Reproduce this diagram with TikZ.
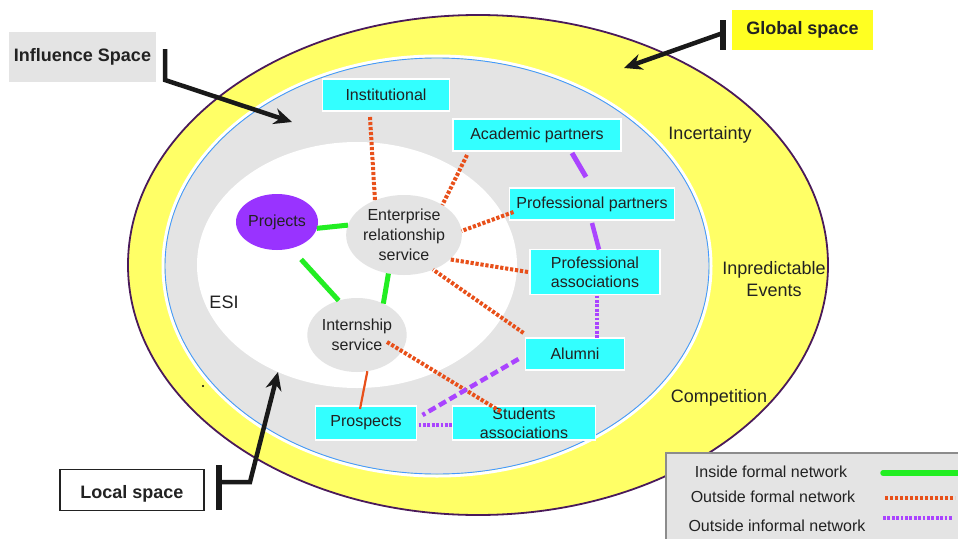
\documentclass[tikz,border=0pt]{standalone}
\usepackage{fontspec}
\setmainfont{Liberation Sans}
\usetikzlibrary{arrows.meta,calc,shapes.geometric}
\definecolor{cyanbox}{HTML}{33FFFF}
\definecolor{ringyellow}{HTML}{FFFF66}
\definecolor{globyellow}{HTML}{FFFF22}
\definecolor{lgray}{HTML}{E4E4E4}
\definecolor{ringborder}{HTML}{4A1A5A}
\definecolor{thinblue}{HTML}{4499FF}
\definecolor{projpurple}{HTML}{9933FF}
\definecolor{linepurple}{HTML}{AA44FF}
\definecolor{lineorange}{HTML}{E8501A}
\definecolor{linegreen}{HTML}{22EE22}
\definecolor{txt}{HTML}{222222}
\newcommand\fsz[2]{\fontsize{#1}{#2}\selectfont}
\begin{document}
\begin{tikzpicture}[x=1pt,y=-1pt,
  cbox/.style={rectangle, fill=cyanbox, draw=white, line width=1.2pt, text=txt,
    font=\fsz{16}{19}, align=center, inner sep=0pt, outer sep=0pt},
  service/.style={ellipse, fill=lgray, text=txt, font=\fsz{16}{20}, align=center, inner sep=0pt, outer sep=0pt},
  ringlabel/.style={text=txt, font=\fsz{18}{22}, align=center, inner sep=0pt},
  callout/.style={rectangle, text=txt, font=\bfseries\fsz{18}{22}, inner sep=0pt, outer sep=0pt},
  inside/.style={draw=linegreen, line width=5pt},
  outside/.style={draw=lineorange, line width=4pt, dash pattern=on 3.2pt off 1.8pt},
  outthin/.style={draw=lineorange, line width=2.2pt},
  informal/.style={draw=linepurple, line width=4.5pt, dash pattern=on 8pt off 4pt},
  infdot/.style={draw=linepurple, line width=4pt, dash pattern=on 2.8pt off 1.6pt},
  bigarrow/.style={draw=black!90, line width=4.5pt, -{Stealth[length=18pt,width=16pt]}},
  tbar/.style={draw=black!90, line width=6pt},
  legtext/.style={text=txt, font=\fsz{16}{18}, inner sep=0pt}
]
\clip (0,0) rectangle (958,538);
\useasboundingbox (0,0) rectangle (958,538);
\fill[white] (0,0) rectangle (958,538);

% spaces
\filldraw[fill=ringyellow, draw=ringborder, line width=1.8pt] (478,265) ellipse [x radius=350pt, y radius=250pt];
\draw[white, line width=3pt] (437,266) ellipse [x radius=274pt, y radius=210pt];
\filldraw[fill=lgray, draw=thinblue, line width=0.9pt] (437,266) ellipse [x radius=272pt, y radius=208pt];
\fill[white] (357,265) ellipse [x radius=160pt, y radius=123pt];
\fill[black] (203,386) circle (1.2pt);

% ring labels
\node[ringlabel] (incert) at (710,135) {Incertainty};
\node[ringlabel] (inpred) at (774,279) {Inpredictable\\Events};
\node[ringlabel] (compet) at (719,398) {Competition};
\node[ringlabel] (esi) at (224,302) {ESI};

% nodes
\node[cbox, minimum width=127pt, minimum height=32pt] (inst) at (386,95) {Institutional};
\node[cbox, minimum width=168pt, minimum height=32pt] (acad) at (537,135) {Academic partners};
\node[cbox, minimum width=165pt, minimum height=32pt] (profp) at (592,204) {Professional partners};
\node[cbox, minimum width=130pt, minimum height=45pt] (profa) at (595,272) {Professional\\associations};
\node[cbox, minimum width=99pt, minimum height=32pt] (alumni) at (575,354) {Alumni};
\node[cbox, minimum width=143pt, minimum height=34pt] (stud) at (524,423) {Students\\associations};
\node[cbox, minimum width=101pt, minimum height=34pt] (prosp) at (366,423) {Prospects};
\node[ellipse, fill=projpurple, text=txt, font=\fsz{16}{19}, minimum width=82pt, minimum height=56pt, inner sep=0pt, outer sep=0pt] (proj) at (277,222) {Projects};
\node[service, minimum width=96pt, minimum height=80pt] (ers) at (404,235) {Enterprise\\relationship\\service};
\node[service, minimum width=98pt, minimum height=74pt] (intern) at (357,335) {Internship\\service};

% inside formal network
\draw[inside] (proj.-9) -- (ers.170);
\draw[inside, shorten <=15pt] (proj.-62) -- (intern.118);
\draw[inside] (ers.-112) -- (intern.50);

% outside formal network
\draw[outside] ($(inst.south)+(-16,6)$) -- (ers.130);
\draw[outside] ($(acad.south west)+(14,4)$) -- (ers.38);
\draw[outside] ($(profp.south west)+(4,-8)$) -- (ers.4);
\draw[outside] ($(profa.west)+(-2,0)$) -- (ers.-28);
\draw[outside] ($(alumni.north west)+(-2,-5)$) -- (ers.-50);
\draw[outside] ($(intern.center)+(30,7)$) -- ($(stud.north west)+(49,6)$);
\draw[outthin] (intern.-74) -- ($(prosp.north)+(-6,3)$);

% outside informal network
\draw[draw=linepurple, line width=5pt] ($(acad.south)+(35,2)$) -- ($(profp.north)+(-6,-11)$);
\draw[draw=linepurple, line width=4.5pt] ($(profp.south)+(0,3)$) -- ($(profa.north)+(4,0)$);
\draw[infdot] ($(profa.south)+(2,1)$) -- ($(alumni.north)+(22,0)$);
\draw[informal] ($(alumni.west)+(-7,5)$) -- ($(prosp.east)+(6,-8)$);
\draw[infdot] ($(prosp.east)+(2,2)$) -- ($(stud.west)+(0,2)$);

% callouts
\node[callout, fill=lgray, minimum width=147pt, minimum height=50pt] (infl) at (82.5,57) {Influence Space};
\coordinate (inflbar) at (165,49);
\coordinate (inflelbow) at (165,80);
\coordinate (infltip) at (292,122);
\draw[bigarrow] (inflbar) -- (inflelbow) -- (infltip);

\node[callout, fill=globyellow, minimum width=141pt, minimum height=40pt] (glob) at (802.5,29.5) {Global space};
\coordinate (globbartop) at (723,20);
\coordinate (globbarbot) at (723,50);
\coordinate (globstart) at (723,33);
\coordinate (globtip) at (624,68);
\draw[tbar] (globbartop) -- (globbarbot);
\draw[bigarrow] (globstart) -- (globtip);

\node[callout, fill=white, draw=txt, line width=1.2pt, minimum width=144pt, minimum height=41pt, text depth=0pt] (local) at (132,490) {\raisebox{-3pt}{Local space}};
\coordinate (locbartop) at (219,465);
\coordinate (locbarbot) at (219,510);
\coordinate (locstart) at (219,482);
\coordinate (locelbow) at (250,482);
\coordinate (loctip) at (278,372);
\draw[tbar] (locbartop) -- (locbarbot);
\draw[bigarrow] (locstart) -- (locelbow) -- (loctip);

% legend
\filldraw[fill=lgray, draw=black!45, line width=1.5pt] (666,453) rectangle (970,550);
\node[legtext] (leg1) at (771,472) {Inside formal network};
\node[legtext] (leg2) at (773,497) {Outside formal network};
\node[legtext] (leg3) at (777,526) {Outside informal network};
\coordinate (l1a) at (883,473); \coordinate (l1b) at (962,473);
\coordinate (l2a) at (885,498); \coordinate (l2b) at (955,498);
\coordinate (l3a) at (883,518); \coordinate (l3b) at (953,518);
\draw[inside, line width=5.5pt, line cap=round] (l1a) -- (l1b);
\draw[outside] (l2a) -- (l2b);
\draw[infdot] (l3a) -- (l3b);
\end{tikzpicture}
\end{document}
